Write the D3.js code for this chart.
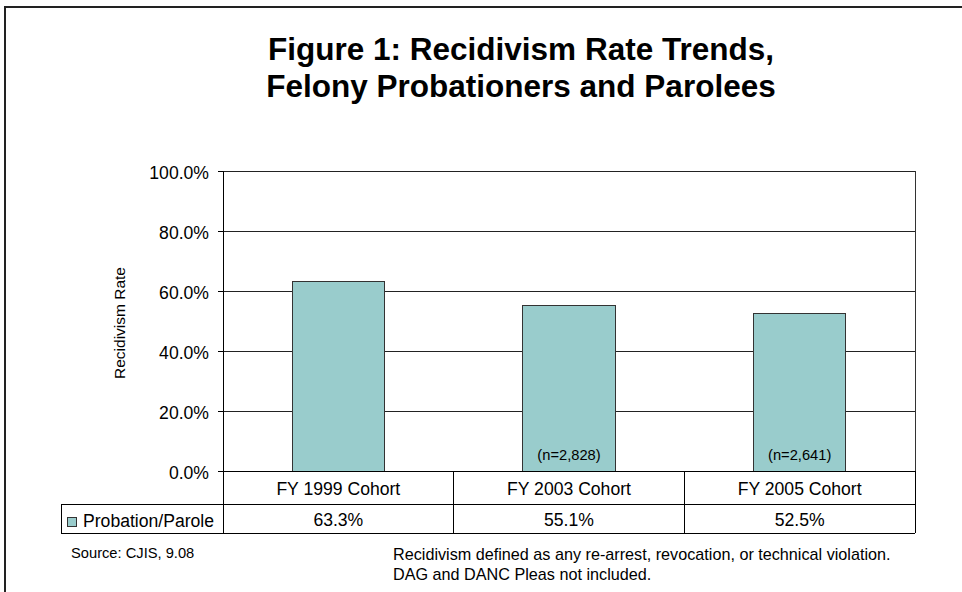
<!DOCTYPE html>
<html>
<head>
<meta charset="utf-8">
<script src="https://cdn.jsdelivr.net/npm/d3@7/dist/d3.min.js"></script>
<style>
  html, body { margin: 0; padding: 0; background: #fff; }
  svg { display: block; font-family: "Liberation Sans", Arial, sans-serif; }
</style>
</head>
<body>
<svg id="chart" width="962" height="592"></svg>
<script>
// Cohort recidivism data
const categories = ["FY 1999 Cohort", "FY 2003 Cohort", "FY 2005 Cohort"];
const rates = [0.633, 0.551, 0.525];
const cohortSizes = ["", "(n=2,828)", "(n=2,641)"];
const seriesName = "Probation/Parole";
const yTicks = [0, 0.2, 0.4, 0.6, 0.8, 1.0];
const titleLines = ["Figure 1: Recidivism Rate Trends,", "Felony Probationers and Parolees"];
const sourceNote = "Source: CJIS, 9.08";
const footNotes = [
  "Recidivism defined as any re-arrest, revocation, or technical violation.",
  "DAG and DANC Pleas not included."
];

const svg = d3.select("#chart");
const barColor = "#99cccc";

// frame around the whole figure
svg.append("rect")
  .attr("x", 5).attr("y", 7)
  .attr("width", 980).attr("height", 600)
  .attr("fill", "none").attr("stroke", "#222").attr("stroke-width", 2);

// title
svg.append("g").selectAll("text").data(titleLines).join("text")
  .attr("x", 521).attr("y", (d, i) => 60 + i * 37)
  .attr("text-anchor", "middle")
  .attr("font-size", 31.5).attr("font-weight", "bold")
  .text(d => d);

// plot area
const plot = { left: 223, right: 915, top: 171, bottom: 471 };
const y = d3.scaleLinear().domain([0, 1]).range([plot.bottom, plot.top]);
const x = d3.scaleBand().domain(categories)
  .range([plot.left, plot.right]).paddingInner(0.6).paddingOuter(0.3);
const cell = d3.scaleBand().domain(categories).range([plot.left, plot.right]);

// gridlines
svg.append("g").selectAll("line").data(yTicks.filter(t => t > 0)).join("line")
  .attr("x1", plot.left).attr("x2", plot.right)
  .attr("y1", d => y(d)).attr("y2", d => y(d))
  .attr("stroke", "#222").attr("stroke-width", 1).attr("shape-rendering", "crispEdges");

// right border of the plot area
svg.append("line")
  .attr("x1", plot.right).attr("x2", plot.right)
  .attr("y1", plot.top).attr("y2", plot.bottom)
  .attr("stroke", "#333").attr("shape-rendering", "crispEdges");

// bars
svg.append("g").selectAll("rect").data(categories).join("rect")
  .attr("x", d => x(d)).attr("width", x.bandwidth())
  .attr("y", (d, i) => y(rates[i]))
  .attr("height", (d, i) => y(0) - y(rates[i]))
  .attr("fill", barColor).attr("stroke", "#333").attr("stroke-width", 1)
  .attr("shape-rendering", "crispEdges");

// cohort size notes inside bars
svg.append("g").selectAll("text").data(categories).join("text")
  .attr("x", d => x(d) + x.bandwidth() / 2).attr("y", 460)
  .attr("text-anchor", "middle").attr("font-size", 14.7)
  .text((d, i) => cohortSizes[i]);

// y axis
const yAxis = d3.axisLeft(y).tickValues(yTicks).tickSize(5).tickPadding(9)
  .tickFormat(d3.format(".1%"));
const ga = svg.append("g").attr("transform", `translate(${plot.left},0)`).call(yAxis);
ga.select(".domain").attr("stroke", "#000");
ga.selectAll(".tick line").attr("stroke", "#000");
ga.selectAll(".tick text").attr("font-size", 17.6).attr("fill", "#000")
  .attr("font-family", "'Liberation Sans', Arial, sans-serif").attr("dy", "0.45em");

// axis title
svg.append("text")
  .attr("transform", "translate(125,323) rotate(-90)")
  .attr("text-anchor", "middle").attr("font-size", 15.5)
  .text("Recidivism Rate");

// data table
const row1 = { top: 471, bottom: 504 };
const row2 = { top: 504, bottom: 533 };
const legendLeft = 61;
const tbl = svg.append("g").attr("stroke", "#000").attr("stroke-width", 1)
  .attr("shape-rendering", "crispEdges");
tbl.append("line").attr("x1", plot.left).attr("x2", plot.right)
  .attr("y1", row1.top).attr("y2", row1.top);
tbl.append("line").attr("x1", legendLeft).attr("x2", plot.right)
  .attr("y1", row2.top).attr("y2", row2.top);
tbl.append("line").attr("x1", legendLeft).attr("x2", plot.right)
  .attr("y1", row2.bottom).attr("y2", row2.bottom);
tbl.append("line").attr("x1", legendLeft).attr("x2", legendLeft)
  .attr("y1", row2.top).attr("y2", row2.bottom);
const edges = categories.map(c => cell(c)).concat([plot.right]);
tbl.selectAll("line.v").data(edges).join("line").attr("class", "v")
  .attr("x1", d => d).attr("x2", d => d)
  .attr("y1", plot.bottom).attr("y2", row2.bottom);

// category labels
svg.append("g").selectAll("text").data(categories).join("text")
  .attr("x", d => cell(d) + cell.bandwidth() / 2).attr("y", 495)
  .attr("text-anchor", "middle").attr("font-size", 17.6)
  .text(d => d);

// values row
svg.append("g").selectAll("text").data(rates).join("text")
  .attr("x", (d, i) => cell(categories[i]) + cell.bandwidth() / 2).attr("y", 526)
  .attr("text-anchor", "middle").attr("font-size", 17.6)
  .text(d => d3.format(".1%")(d));

// legend key
svg.append("rect")
  .attr("x", 67.5).attr("y", 517.5).attr("width", 9).attr("height", 9)
  .attr("fill", barColor).attr("stroke", "#333");
svg.append("text")
  .attr("x", 83).attr("y", 527).attr("font-size", 17.6)
  .text(seriesName);

// notes
svg.append("text")
  .attr("x", 71).attr("y", 558).attr("font-size", 14.7)
  .text(sourceNote);
svg.append("g").selectAll("text").data(footNotes).join("text")
  .attr("x", 393).attr("y", (d, i) => 560 + i * 20).attr("font-size", 16.2)
  .text(d => d);
</script>
</body>
</html>
